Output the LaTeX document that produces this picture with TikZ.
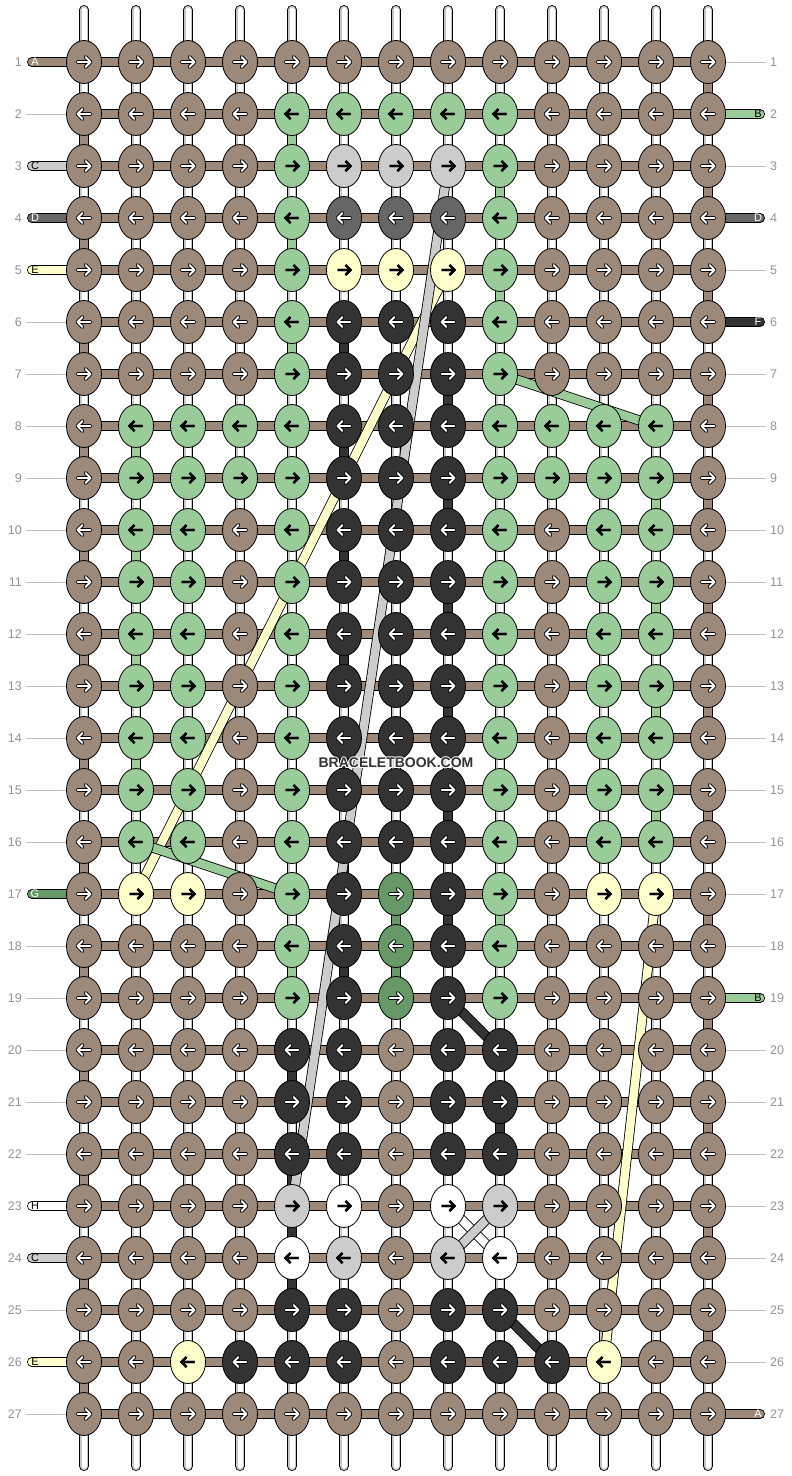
\documentclass[tikz,border=0pt]{standalone}
\usepackage{fontspec}
\setmainfont{Liberation Sans}
\usetikzlibrary{shapes.geometric}
\pgfdeclarelayer{back}
\pgfsetlayers{back,main}
\definecolor{cA}{RGB}{156,137,121}
\definecolor{cB}{RGB}{153,204,153}
\definecolor{cC}{RGB}{204,204,204}
\definecolor{cD}{RGB}{102,102,102}
\definecolor{cE}{RGB}{255,255,204}
\definecolor{cF}{RGB}{51,51,51}
\definecolor{cG}{RGB}{102,153,102}
\definecolor{cH}{RGB}{255,255,255}
% light rim round the watermark letters
\newcommand\haloed[1]{%
  \rlap{\color{white}\hspace*{-1pt}#1}\rlap{\color{white}\hspace*{1pt}#1}%
  \rlap{\color{white}\raisebox{1pt}{#1}}\rlap{\color{white}\raisebox{-1pt}{#1}}%
  \rlap{\color{white}\hspace*{-0.8pt}\raisebox{0.8pt}{#1}}\rlap{\color{white}\hspace*{0.8pt}\raisebox{0.8pt}{#1}}%
  \rlap{\color{white}\hspace*{-0.8pt}\raisebox{-0.8pt}{#1}}\rlap{\color{white}\hspace*{0.8pt}\raisebox{-0.8pt}{#1}}%
  #1}
\tikzset{
  knot/.style={ellipse, draw=black, line width=0.8, minimum width=35, minimum height=43, inner sep=0},
  bar/.style={line width=0.8, double distance=8.4},
  warp/.style={line width=0.8, double=black!22, double distance=8.4, line cap=round},
  warpcore/.style={white, line width=5, line cap=round},
  guide/.style={black!25, line width=0.8},
  num/.style={text=black!42, font=\fontsize{12.5}{14}\selectfont, inner sep=0},
  wmark/.style={text=cF, font=\bfseries\fontsize{14}{16}\selectfont, inner sep=0},
  % arrows inside the knots: u = under, o = over
  uA/.style={black, line width=3.6, line cap=round, line join=round},
  oA/.style={white, line width=1.8, line cap=round, line join=round},
  uD/.style={uA}, oD/.style={oA}, uF/.style={uA}, oF/.style={oA}, uG/.style={uA}, oG/.style={oA},
  uB/.style={black, line width=2.2, line join=miter},
  oB/.style={uB}, uC/.style={uB}, oC/.style={uB}, uE/.style={uB}, oE/.style={uB}, uH/.style={uB}, oH/.style={uB},
  % letters on the strings
  ltA/.style={text=white, font=\fontsize{11}{12}\selectfont, inner sep=0},
  ltB/.style={ltA, text=black}, ltC/.style={ltB}, ltD/.style={ltA}, ltE/.style={ltB},
  ltF/.style={ltA}, ltG/.style={ltA}, ltH/.style={ltB}
}
\begin{document}
\begin{tikzpicture}[x=1pt, y=-1pt]
\useasboundingbox (0,0) rectangle (792,1476);

% knots, row by row
\foreach \r/\pat in {
  1/{A,A,A,A,A,A,A,A,A,A,A,A,A},
  2/{A,A,A,A,B,B,B,B,B,A,A,A,A},
  3/{A,A,A,A,B,C,C,C,B,A,A,A,A},
  4/{A,A,A,A,B,D,D,D,B,A,A,A,A},
  5/{A,A,A,A,B,E,E,E,B,A,A,A,A},
  6/{A,A,A,A,B,F,F,F,B,A,A,A,A},
  7/{A,A,A,A,B,F,F,F,B,A,A,A,A},
  8/{A,B,B,B,B,F,F,F,B,B,B,B,A},
  9/{A,B,B,B,B,F,F,F,B,B,B,B,A},
  10/{A,B,B,A,B,F,F,F,B,A,B,B,A},
  11/{A,B,B,A,B,F,F,F,B,A,B,B,A},
  12/{A,B,B,A,B,F,F,F,B,A,B,B,A},
  13/{A,B,B,A,B,F,F,F,B,A,B,B,A},
  14/{A,B,B,A,B,F,F,F,B,A,B,B,A},
  15/{A,B,B,A,B,F,F,F,B,A,B,B,A},
  16/{A,B,B,A,B,F,F,F,B,A,B,B,A},
  17/{A,E,E,A,B,F,G,F,B,A,E,E,A},
  18/{A,A,A,A,B,F,G,F,B,A,A,A,A},
  19/{A,A,A,A,B,F,G,F,B,A,A,A,A},
  20/{A,A,A,A,F,F,A,F,F,A,A,A,A},
  21/{A,A,A,A,F,F,A,F,F,A,A,A,A},
  22/{A,A,A,A,F,F,A,F,F,A,A,A,A},
  23/{A,A,A,A,C,H,A,H,C,A,A,A,A},
  24/{A,A,A,A,H,C,A,C,H,A,A,A,A},
  25/{A,A,A,A,F,F,A,F,F,A,A,A,A},
  26/{A,A,E,F,F,F,A,F,F,F,E,A,A},
  27/{A,A,A,A,A,A,A,A,A,A,A,A,A}}{
  \pgfmathtruncatemacro\dir{1-2*mod(\r+1,2)}
  \foreach \kc [count=\c] in \pat {
    \node[knot, fill=c\kc] (k-\r-\c) at ({32+52*\c},{10+52*\r}) {};
    \foreach \sty in {u,o}
      \draw[\sty\kc] (k-\r-\c.center) ++(-6.5*\dir,0) -- ++(13*\dir,0)
        ++(-5*\dir,-5) -- ++(5*\dir,5) -- ++(-5*\dir,5);
  }
}

\begin{pgfonlayer}{back}
\fill[white] (0,0) rectangle (792,1476);
% warps
\foreach \c in {1,...,13}{
  \coordinate (wt-\c) at ({32+52*\c},10);
  \coordinate (wb-\c) at ({32+52*\c},1466);
  \draw[warp] (wt-\c) -- (wb-\c);
  \draw[warpcore] (wt-\c) -- (wb-\c);
}
% turns of the working strings
\foreach \r in {1,3,...,25}{
  \pgfmathtruncatemacro\s{\r+1}
  \draw[bar, double=cA] (k-\r-13.center) -- (k-\s-13.center);
}
\foreach \r in {2,4,...,26}{
  \pgfmathtruncatemacro\s{\r+1}
  \draw[bar, double=cA] (k-\r-1.center) -- (k-\s-1.center);
}
\foreach \kc/\c/\ra/\rb in {B/5/2/3, B/9/3/4, B/5/4/5, B/9/5/6, B/5/6/7, B/2/8/9,
    B/12/9/10, B/2/10/11, B/12/11/12, B/2/12/13, B/12/13/14, B/2/14/15, B/12/15/16,
    B/9/17/18, B/5/18/19, F/6/6/7, F/8/7/8, F/6/8/9, F/8/9/10, F/6/10/11, F/8/11/12,
    F/6/12/13, F/8/13/14, F/6/14/15, F/8/15/16, F/6/16/17, F/8/17/18, F/6/18/19,
    F/5/20/21, F/9/21/22, F/5/22/25, G/7/17/18, G/7/18/19}
  \draw[bar, double=c\kc] (k-\ra-\c.center) -- (k-\rb-\c.center);
% rows
\foreach \r in {1,...,27}
  \draw[bar, double=cA] (k-\r-1.center) -- (k-\r-13.center);
% carried strings
\foreach \kc/\ra/\ca/\rb/\cb in {H/23/8/24/9, F/19/8/20/9, F/25/9/26/10, E/5/8/17/2,
    E/17/12/26/11, C/3/8/23/5, C/23/9/24/8, B/7/9/8/12, B/16/2/17/5}
  \draw[bar, double=c\kc] (k-\ra-\ca.center) -- (k-\rb-\cb.center);

% row numbers
\foreach \r in {1,...,27}{
  \node[num, anchor=east] (nl-\r) at (22,{10+52*\r}) {\r};
  \node[num, anchor=west] (nr-\r) at (770,{10+52*\r}) {\r};
}
\foreach \r in {2,6,7,8,9,10,11,12,13,14,15,16,18,19,20,21,22,25,27}
  \draw[guide, shorten <=4] (nl-\r) -- (k-\r-1);
\foreach \r in {1,3,5,7,8,9,10,11,12,13,14,15,16,17,18,20,21,22,23,24,25,26}
  \draw[guide, shorten >=4] (k-\r-13) -- (nr-\r);

% string ends
\foreach \r/\kc in {1/A,3/C,4/D,5/E,17/G,23/H,24/C,26/E}{
  \coordinate (ls-\r) at (32,{10+52*\r});
  \draw[bar, double=c\kc, line cap=round] (ls-\r) -- (k-\r-1.center);
  \node[lt\kc] (lsl-\r) at (35,{10+52*\r}) {\kc};
}
\foreach \r/\kc in {2/B,4/D,6/F,19/B,27/A}{
  \coordinate (rs-\r) at (760,{10+52*\r});
  \draw[bar, double=c\kc, line cap=round] (k-\r-13.center) -- (rs-\r);
  \node[lt\kc] (rsl-\r) at (758,{10+52*\r}) {\kc};
}
\end{pgfonlayer}

\node[wmark] (logo) at (396,763) {\haloed{BRACELETBOOK.COM}};
\end{tikzpicture}
\end{document}
